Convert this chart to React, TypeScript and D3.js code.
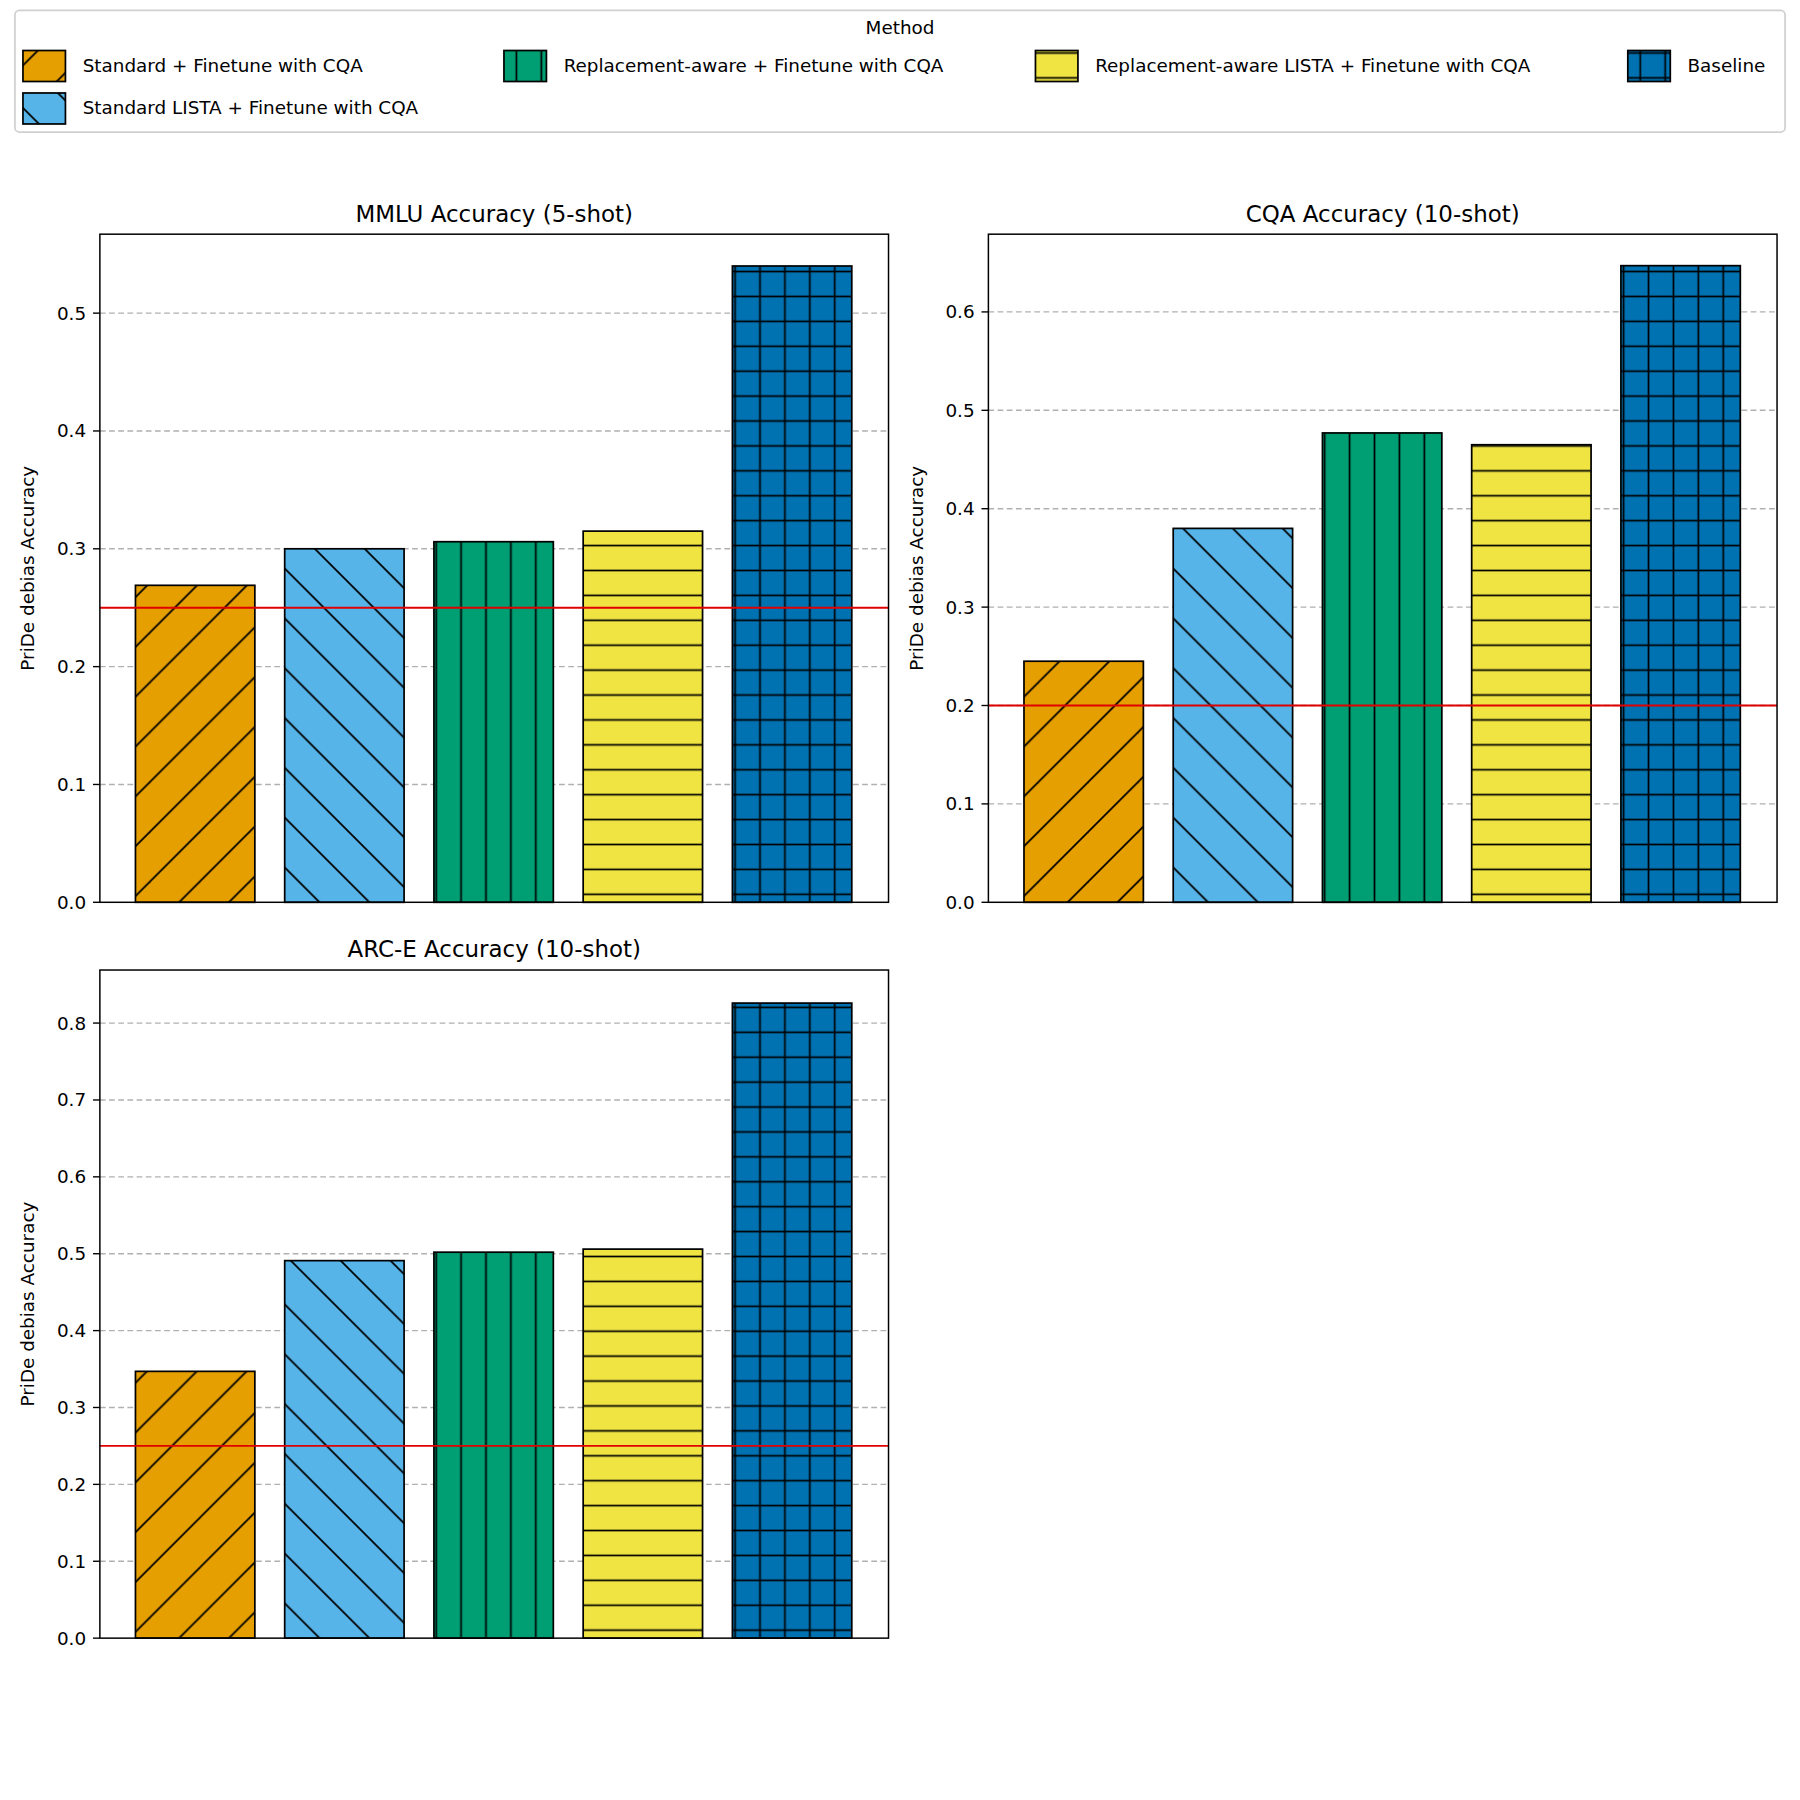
import React from 'react'
import * as d3 from 'd3'

const methods = [
  'Standard + Finetune with CQA',
  'Standard LISTA + Finetune with CQA',
  'Replacement-aware + Finetune with CQA',
  'Replacement-aware LISTA + Finetune with CQA',
  'Baseline'
]
const colors = ['#E69F00', '#56B4E9', '#009E73', '#F0E442', '#0072B2']
const hatches = ['fwd', 'back', 'vert', 'horiz', 'cross']

const mmluValues = [0.269, 0.3, 0.306, 0.315, 0.54]
const cqaValues = [0.245, 0.38, 0.477, 0.465, 0.647]
const arcValues = [0.347, 0.491, 0.502, 0.506, 0.826]

const panels = [
  { title: 'MMLU Accuracy (5-shot)', values: mmluValues, chance: 0.25, ymax: 0.567, x: 87, y: 204 },
  { title: 'CQA Accuracy (10-shot)', values: cqaValues, chance: 0.2, ymax: 0.679, x: 861, y: 204 },
  { title: 'ARC-E Accuracy (10-shot)', values: arcValues, chance: 0.25, ymax: 0.869, x: 87, y: 845 }
]
const W = 687
const H = 582
const font = 'DejaVu Sans, sans-serif'
const S = 21.7

const Pattern = ({ id, color, kind }: { id: string; color: string; kind: string }) => {
  const sz = kind === 'fwd' || kind === 'back' ? S * 2 : S
  const st = { stroke: '#000', strokeWidth: 1.5 }
  return (
    <pattern id={id} patternUnits="userSpaceOnUse" width={sz} height={sz}>
      <rect width={sz} height={sz} fill={color} />
      {kind === 'fwd' && <>
        <line x1={0} y1={sz} x2={sz} y2={0} {...st} />
        <line x1={-sz} y1={sz} x2={sz / 2 - sz / 2} y2={0} {...st} />
        <line x1={-1} y1={1} x2={1} y2={-1} {...st} />
        <line x1={sz - 1} y1={sz + 1} x2={sz + 1} y2={sz - 1} {...st} />
      </>}
      {kind === 'back' && <>
        <line x1={0} y1={0} x2={sz} y2={sz} {...st} />
        <line x1={sz - 1} y1={-1} x2={sz + 1} y2={1} {...st} />
        <line x1={-1} y1={sz - 1} x2={1} y2={sz + 1} {...st} />
      </>}
      {(kind === 'vert' || kind === 'cross') && <line x1={sz / 2} y1={0} x2={sz / 2} y2={sz} {...st} />}
      {(kind === 'horiz' || kind === 'cross') && <line x1={0} y1={sz / 2} x2={sz} y2={sz / 2} {...st} />}
    </pattern>
  )
}

const Panel = ({ p }: { p: typeof panels[number] }) => {
  const x = d3.scaleBand<number>().domain(d3.range(5)).range([18, 668]).paddingInner(0.2).paddingOuter(0.1)
  const y = d3.scaleLinear().domain([0, p.ymax]).range([H, 0])
  const ticks = d3.range(0, p.ymax + 1e-9, 0.1)
  return (
    <g transform={`translate(${p.x},${p.y})`} fontFamily={font}>
      <text x={W / 2} y={-11} textAnchor="middle" fontSize={20}>{p.title}</text>
      {ticks.slice(1).map(t => (
        <line key={t} x1={0} x2={W} y1={y(t)} y2={y(t)} stroke="#b0b0b0" strokeDasharray="5,3" strokeWidth={1.2} />
      ))}
      {p.values.map((v, i) => (
        <rect key={i} x={x(i)} y={y(v)} width={x.bandwidth()} height={H - y(v)}
          fill={`url(#pat${i})`} stroke="#000" strokeWidth={1.5} />
      ))}
      <line x1={0} x2={W} y1={y(p.chance)} y2={y(p.chance)} stroke="#e00000" strokeWidth={1.6} />
      <rect width={W} height={H} fill="none" stroke="#000" strokeWidth={1.3} />
      {ticks.map(t => (
        <g key={t} transform={`translate(0,${y(t)})`}>
          <line x1={-6} x2={0} stroke="#000" strokeWidth={1.2} />
          <text x={-12} dy="0.35em" textAnchor="end" fontSize={16}>{t.toFixed(1)}</text>
        </g>
      ))}
      <text transform={`translate(${-57},${H / 2}) rotate(-90)`} textAnchor="middle" fontSize={16}>PriDe debias Accuracy</text>
    </g>
  )
}

const legendPos = [
  { x: 20, y: 57 }, { x: 20, y: 94 }, { x: 439, y: 57 }, { x: 902, y: 57 }, { x: 1418, y: 57 }
]

export default function App() {
  return (
    <svg width={1800} height={1800} viewBox="0 0 1568 1568"
      style={{ position: 'absolute', left: 0, top: 0, background: '#fff' }}>
      <defs>
        {colors.map((c, i) => <Pattern key={i} id={`pat${i}`} color={c} kind={hatches[i]} />)}
      </defs>
      <rect width={1568} height={1568} fill="#fff" />
      <g fontFamily={font}>
        <rect x={13} y={9} width={1542} height={106} rx={4} fill="#fff" stroke="#d0d0d0" strokeWidth={1.5} />
        <text x={784} y={30} textAnchor="middle" fontSize={16}>Method</text>
        {methods.map((m, i) => (
          <g key={m} transform={`translate(${legendPos[i].x},${legendPos[i].y})`}>
            <rect x={0} y={-13} width={37} height={27} fill={`url(#pat${i})`} stroke="#000" strokeWidth={1.5} />
            <text x={52} dy="0.35em" fontSize={16}>{m}</text>
          </g>
        ))}
      </g>
      {panels.map(p => <Panel key={p.title} p={p} />)}
    </svg>
  )
}
